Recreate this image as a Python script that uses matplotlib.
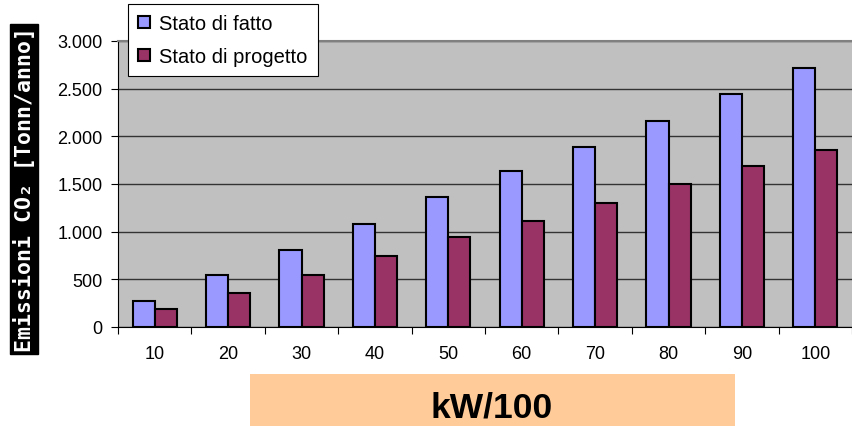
import matplotlib
matplotlib.use("Agg")
import matplotlib.pyplot as plt
import numpy as np
from matplotlib.ticker import FuncFormatter, FixedLocator
from matplotlib.patches import Rectangle

categories = ['10', '20', '30', '40', '50', '60', '70', '80', '90', '100']
stato_fatto = [270, 550, 810, 1080, 1360, 1635, 1885, 2160, 2440, 2720]
stato_progetto = [185, 360, 550, 745, 945, 1110, 1300, 1500, 1690, 1860]

plt.rcParams['font.family'] = ['Liberation Sans', 'DejaVu Sans']

fig = plt.figure(figsize=(8.52, 4.27), dpi=100)
ax = fig.add_axes([118 / 852, 1 - 328 / 427, 734 / 852, 286 / 427])
ax.set_facecolor('#C0C0C0')

x = np.arange(len(categories))
w = 0.3
ax.bar(x - w / 2, stato_fatto, w, color='#9999FF', edgecolor='black', linewidth=1.5,
       label='Stato di fatto', zorder=3)
ax.bar(x + w / 2, stato_progetto, w, color='#993366', edgecolor='black', linewidth=1.5,
       label='Stato di progetto', zorder=3)

ax.set_xlim(-0.5, len(categories) - 0.5)
ax.set_ylim(0, 3000)
ax.set_yticks(np.arange(0, 3001, 500))
ax.yaxis.set_major_formatter(FuncFormatter(lambda v, p: f'{int(v):,}'.replace(',', '.')))
ax.yaxis.grid(True, color='#333333', linewidth=1, zorder=1)
ax.set_axisbelow(True)

ax.xaxis.set_major_locator(FixedLocator(np.arange(-0.5, len(categories), 1)))
ax.set_xticklabels([])
ax.set_xticks(x, minor=True)
ax.set_xticklabels(categories, minor=True)
ax.tick_params(axis='x', which='minor', length=0, pad=13, labelsize=13)
ax.tick_params(axis='x', which='major', length=5, direction='out', color='black')
ax.tick_params(axis='y', length=5, direction='out', labelsize=13, pad=6)

ax.spines['right'].set_visible(False)
ax.spines['top'].set_color('#808080')
ax.spines['top'].set_linewidth(1.5)
ax.spines['left'].set_color('black')
ax.spines['bottom'].set_color('black')

leg = ax.legend(loc='upper left', bbox_to_anchor=(128 / 852, 1 - 5 / 427),
                bbox_transform=fig.transFigure, fontsize=14.5, frameon=True,
                fancybox=False, framealpha=1, edgecolor='black',
                handlelength=0.6, handleheight=0.6, handletextpad=0.45,
                borderpad=0.5, labelspacing=0.7, borderaxespad=0)
leg.get_frame().set_linewidth(0.8)

fig.patches.append(Rectangle((250 / 852, 0), 485 / 852, 52 / 427,
                             transform=fig.transFigure, facecolor='#FFCC99',
                             edgecolor='none'))
fig.text(492 / 852, 1 - 408 / 427, 'kW/100', ha='center', va='center',
         fontsize=25.5, fontweight='bold')

fig.text(24 / 852, 1 - 190 / 427, 'Emissioni CO₂ [Tonn/anno]', rotation=90,
         ha='center', va='center', color='white', fontsize=15.5, fontweight='bold',
         family=['DejaVu Sans Mono', 'DejaVu Sans'],
         bbox=dict(facecolor='black', edgecolor='black', pad=2))

fig.savefig('out.png', dpi=100)
